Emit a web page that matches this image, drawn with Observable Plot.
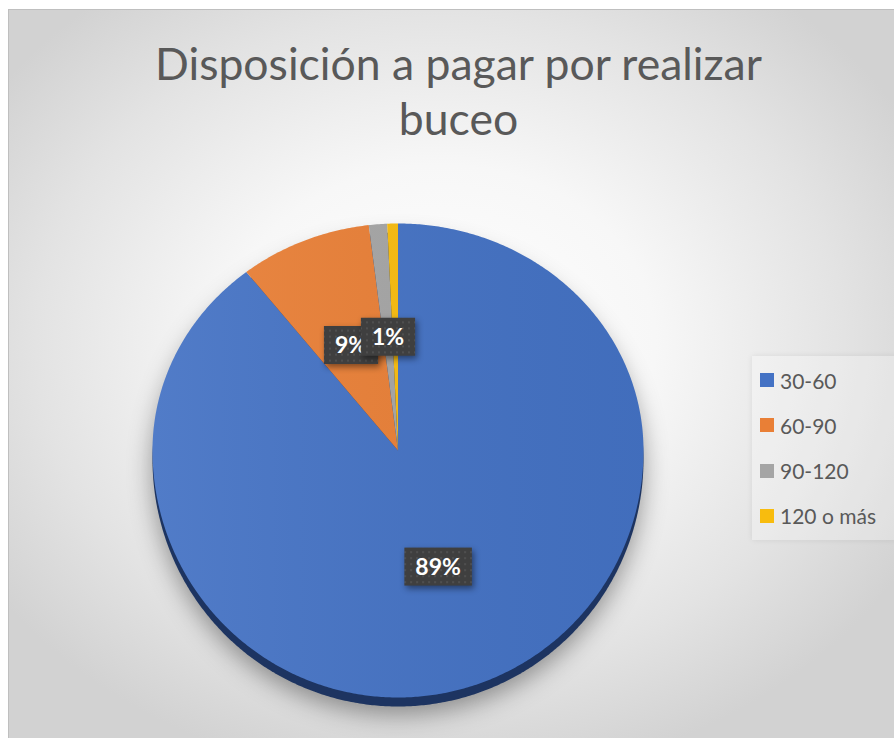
<!DOCTYPE html>
<html><head><meta charset="utf-8">
<script src="https://cdn.jsdelivr.net/npm/d3@7"></script>
<script src="https://cdn.jsdelivr.net/npm/@observablehq/plot@0.6"></script>
<style>
html,body{margin:0;padding:0;background:#fff;overflow:hidden;width:894px;height:738px;}
#frame{position:absolute;left:8px;top:9px;width:900px;height:740px;box-sizing:border-box;border:1px solid #bfbfbf;
 background:radial-gradient(ellipse 60% 60% at 48% 45%, #ffffff 0%, #f7f7f7 40%, #e3e3e3 75%, #d2d2d2 100%);}
#title{position:absolute;left:0;top:35px;width:917px;text-align:center;font-family:Lato,"Noto Sans",sans-serif;font-size:44px;line-height:55px;color:#595959;white-space:nowrap;}
#chart{position:absolute;left:0;top:0;}
#legend{position:absolute;left:752px;top:356px;width:150px;height:184px;background:rgba(255,255,255,0.25);box-shadow:0 0 6px rgba(0,0,0,0.08);}
.item{position:absolute;left:760px;height:30px;display:flex;align-items:center;font-family:Lato,"Noto Sans",sans-serif;font-size:21px;color:#595959;white-space:nowrap;}
.sw{width:14px;height:14px;margin-right:6px;flex:none;}
</style></head>
<body>
<svg width="0" height="0" style="position:absolute">
 <defs>
  <pattern id="dots" width="6" height="6" patternUnits="userSpaceOnUse">
   <rect width="6" height="6" fill="#3f3f3f"/>
   <circle cx="3" cy="3" r="0.9" fill="#575757"/>
  </pattern>
  <linearGradient id="sheen" x1="0" y1="0" x2="1" y2="0">
   <stop offset="0" stop-color="#ffffff" stop-opacity="0.07"/>
   <stop offset="1" stop-color="#000000" stop-opacity="0.04"/>
  </linearGradient>
 </defs>
</svg>
<div id="frame"></div>
<div id="title"><span id="t1">Disposición a pagar por realizar</span><br><span>buceo</span></div>
<div id="chart"></div>
<div id="legend"></div>
<script>
const categories = ["30-60", "60-90", "90-120", "120 o más"];
const values = [89.4, 8.7, 1.2, 0.7];
const colors = ["#4472c4", "#e97f36", "#a5a5a5", "#f8bc0e"];
const labels = ["89%", "9%", "1%", ""];

const arcs = d3.pie().sort(null).value(d => d)(values);
const slicePts = [];
arcs.forEach((a, i) => {
  const key = categories[i];
  slicePts.push({key, x: 0, y: 0});
  const n = Math.max(2, Math.ceil((a.endAngle - a.startAngle) / (Math.PI / 360)));
  for (let k = 0; k <= n; k++) {
    const t = a.startAngle + (a.endAngle - a.startAngle) * k / n;
    slicePts.push({key, x: Math.sin(t), y: Math.cos(t)});
  }
  slicePts.push({key, x: 0, y: 0});
});
const outline = d3.range(0, 721).map(k => {
  const t = 2 * Math.PI * k / 720;
  return {x: Math.sin(t), y: Math.cos(t)};
});
const labelPts = arcs.map((a, i) => {
  const m = (a.startAngle + a.endAngle) / 2;
  return {x: 0.5 * Math.sin(m), y: 0.5 * Math.cos(m), text: labels[i]};
}).filter(d => d.text);

const svg = Plot.plot({
  width: 894, height: 738, margin: 0,
  style: {background: "transparent", overflow: "visible"},
  x: {type: "linear", domain: [-1, 0, 1], range: [152, 397.5, 643], axis: null},
  y: {type: "linear", domain: [-1, 0, 1], range: [697, 450, 223], axis: null},
  color: {domain: categories, range: colors},
  marks: [
    Plot.line(outline, {x: "x", y: "y", fill: "#1d3461", stroke: "none", dy: 9}),
    Plot.line(slicePts, {x: "x", y: "y", z: "key", fill: "key", stroke: "none"}),
    Plot.line(outline, {x: "x", y: "y", fill: "url(#sheen)", stroke: "none"}),
    Plot.text(labelPts, {x: "x", y: "y", text: "text", fill: "white", fontWeight: "bold",
      fontSize: 23, fontFamily: "Lato, 'Noto Sans', sans-serif"})
  ]
});
document.getElementById("chart").append(svg);

const lines = svg.querySelectorAll('g[aria-label="line"]');
if (lines[0]) lines[0].style.filter = "drop-shadow(0px 8px 12px rgba(0,0,0,0.38))";

const ns = "http://www.w3.org/2000/svg";
svg.querySelectorAll('g[aria-label="text"] text').forEach(t => {
  const bb = t.getBBox();
  const cy = bb.y + bb.height / 2 + 1;
  const r = document.createElementNS(ns, "rect");
  r.setAttribute("x", bb.x - 11);
  r.setAttribute("y", cy - 19);
  r.setAttribute("width", bb.width + 22);
  r.setAttribute("height", 38);
  r.setAttribute("fill", "url(#dots)");
  const tr = t.getAttribute("transform");
  if (tr) r.setAttribute("transform", tr);
  r.style.filter = "drop-shadow(2px 3px 3px rgba(0,0,0,0.45))";
  t.parentNode.insertBefore(r, t);
});

// fit title width
const t1 = document.getElementById("t1");
const w = t1.getBoundingClientRect().width;
const fs = 44 * 607 / w;
document.getElementById("title").style.fontSize = fs + "px";

categories.forEach((c, i) => {
  const d = document.createElement("div");
  d.className = "item";
  d.style.top = (365 + 45.3 * i) + "px";
  d.innerHTML = `<span class="sw" style="background:${colors[i]}"></span><span>${c}</span>`;
  document.body.append(d);
});
</script>
</body></html>
